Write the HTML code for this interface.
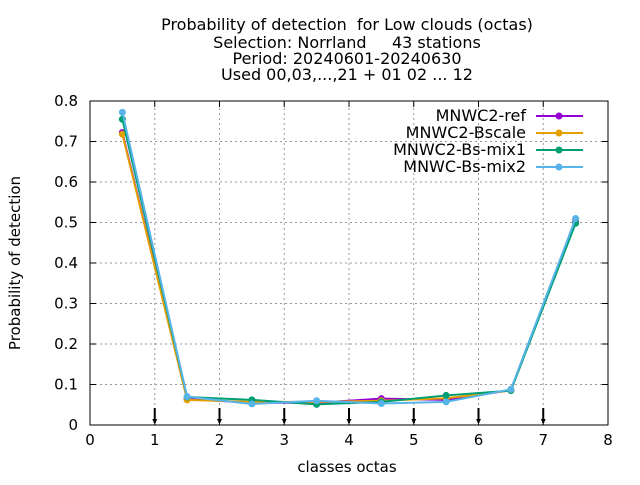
<!DOCTYPE html>
<html><head><meta charset="utf-8"><style>
body{margin:0;background:#fff}
svg text{font-family:"DejaVu Sans","Liberation Sans",sans-serif;font-size:15px;fill:#000;white-space:pre}
svg text.big{font-size:16px}
</style></head><body>
<svg id="c" width="640" height="480" xmlns="http://www.w3.org/2000/svg">
<g>
<text class="big" x="347" y="30" text-anchor="middle">Probability of detection  for Low clouds (octas)</text>
<text class="big" x="347" y="48" text-anchor="middle">Selection: Norrland     43 stations</text>
<text class="big" x="347" y="64" text-anchor="middle">Period: 20240601-20240630</text>
<text class="big" x="347" y="80" text-anchor="middle">Used 00,03,...,21 + 01 02 ... 12</text>
</g>
<text transform="translate(20,263) rotate(-90)" text-anchor="middle">Probability of detection</text>
<text x="347" y="472" text-anchor="middle">classes octas</text>
</svg>
<script>
const xTicks=[0,1,2,3,4,5,6,7,8];
const yTicks=[0,0.1,0.2,0.3,0.4,0.5,0.6,0.7,0.8];
const yTickLabels=["0","0.1","0.2","0.3","0.4","0.5","0.6","0.7","0.8"];
const categories=[0.5,1.5,2.5,3.5,4.5,5.5,6.5,7.5];
const seriesNames=["MNWC2-ref","MNWC2-Bscale","MNWC2-Bs-mix1","MNWC-Bs-mix2"];
const refVals=[0.722,0.064,0.055,0.055,0.065,0.062,0.086,0.505];
const bscaleVals=[0.718,0.062,0.057,0.057,0.060,0.066,0.085,0.508];
const mix1Vals=[0.755,0.069,0.062,0.051,0.057,0.073,0.085,0.498];
const mix2Vals=[0.772,0.070,0.052,0.060,0.053,0.057,0.088,0.510];
const colors=["#9400d3","#e69f00","#009e73","#56b4e9"];
const arrowX=[1,2,3,4,5,6,7];
const NS="http://www.w3.org/2000/svg";
const svg=document.getElementById('c');
const X0=90,X1=608,Y0=425,Y1=101;
const sx=v=>X0+(v-0)/(8-0)*(X1-X0);
const sy=v=>Y0-(v-0)/(0.8-0)*(Y0-Y1);
function mk(t,a,p){const e=document.createElementNS(NS,t);for(const k in a)e.setAttribute(k,a[k]);(p||svg).appendChild(e);return e;}
const grid=mk('g',{});


xTicks.slice(1,-1).forEach(v=>mk('line',{x1:sx(v),x2:sx(v),y1:Y0,y2:Y1,stroke:'#999','stroke-dasharray':'2,3'},grid));
yTicks.slice(1,-1).forEach(v=>mk('line',{x1:X0,x2:X1,y1:sy(v),y2:sy(v),stroke:'#999','stroke-dasharray':'2,3'},grid));
const ax=mk('g',{});


mk('rect',{x:X0,y:Y1,width:X1-X0,height:Y0-Y1,fill:'none',stroke:'#000'},ax);
xTicks.forEach(v=>{mk('line',{x1:sx(v),x2:sx(v),y1:Y0,y2:Y0-6,stroke:'#000'},ax);mk('line',{x1:sx(v),x2:sx(v),y1:Y1,y2:Y1+6,stroke:'#000'},ax);
 const t=mk('text',{x:sx(v),y:Y0+20,'text-anchor':'middle'},ax);t.textContent=v;
 
 });
yTicks.forEach((v,i)=>{mk('line',{x1:X0,x2:X0+6,y1:sy(v),y2:sy(v),stroke:'#000'},ax);mk('line',{x1:X1,x2:X1-6,y1:sy(v),y2:sy(v),stroke:'#000'},ax);
 const t=mk('text',{x:X0-12,y:sy(v)+5,'text-anchor':'end'},ax);t.textContent=yTickLabels[i];
 
 });
arrowX.forEach(v=>{const g=mk('g',{},ax);
 
 
 mk('line',{x1:sx(v),x2:sx(v),y1:Y0-17,y2:Y0-2,stroke:'#000','stroke-width':2},g);
 mk('path',{d:`M${sx(v)-2.5},${Y0-6} L${sx(v)+2.5},${Y0-6} L${sx(v)},${Y0-1} Z`,fill:'#000'},g);});
[refVals,bscaleVals,mix1Vals,mix2Vals].forEach((vals,i)=>{
 const g=mk('g',{});
 
 
 mk('polyline',{points:vals.map((v,j)=>sx(categories[j])+','+sy(v)).join(' '),fill:'none',stroke:colors[i],'stroke-width':2},g);
 vals.forEach((v,j)=>{const c=mk('circle',{cx:sx(categories[j]),cy:sy(v),r:3.5,fill:colors[i]},g);
  
  });
 const le=mk('g',{});
 
 
 const ly=116+i*17;
 const t=mk('text',{x:526,y:ly+5,'text-anchor':'end','class':'big'},le);t.textContent=seriesNames[i];
 mk('line',{x1:536,x2:583,y1:ly,y2:ly,stroke:colors[i],'stroke-width':2},le);
 mk('circle',{cx:559,cy:ly,r:3.5,fill:colors[i]},le);
});
</script>
</body></html>
